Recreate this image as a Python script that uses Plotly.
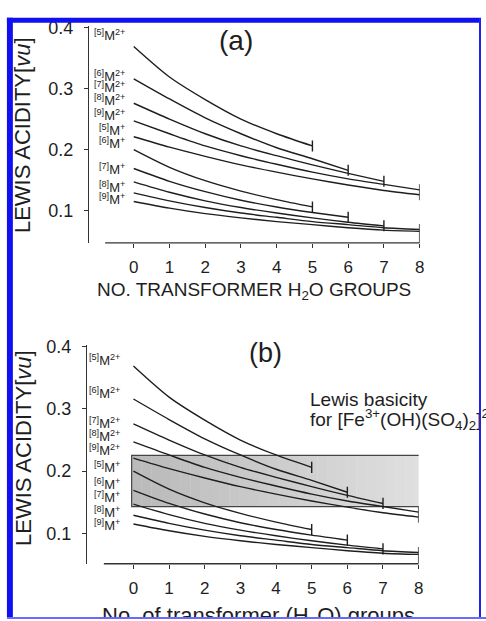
import plotly.graph_objects as go

W, H = 486, 621

# ---------------- data ----------------
n_water = [0, 1, 2, 3, 4, 5, 6, 7, 8]

m2_cn5 = [0.369, 0.319, 0.282, 0.250, 0.226, 0.206]
m2_cn6 = [0.316, 0.283, 0.252, 0.226, 0.203, 0.185, 0.166]
m2_cn7 = [0.276, 0.250, 0.226, 0.206, 0.190, 0.175, 0.161, 0.148]
m2_cn8 = [0.247, 0.226, 0.206, 0.190, 0.176, 0.163, 0.152, 0.143, 0.134]
m2_cn9 = [0.221, 0.204, 0.189, 0.175, 0.163, 0.152, 0.142, 0.133, 0.126]
m1_cn5 = [0.200, 0.171, 0.149, 0.132, 0.118, 0.106]
m1_cn6 = [0.169, 0.148, 0.131, 0.117, 0.106, 0.097, 0.089]
m1_cn7 = [0.147, 0.130, 0.116, 0.105, 0.096, 0.088, 0.081, 0.075]
m1_cn8 = [0.129, 0.116, 0.105, 0.096, 0.089, 0.082, 0.077, 0.072, 0.069]
m1_cn9 = [0.115, 0.104, 0.095, 0.088, 0.082, 0.077, 0.072, 0.068, 0.066]

upper_group = [m2_cn5, m2_cn6, m2_cn7, m2_cn8, m2_cn9]
lower_group = [m1_cn5, m1_cn6, m1_cn7, m1_cn8, m1_cn9]

curve_labels = ["<sup>[5]</sup>M<sup>2+</sup>", "<sup>[6]</sup>M<sup>2+</sup>",
                "<sup>[7]</sup>M<sup>2+</sup>", "<sup>[8]</sup>M<sup>2+</sup>",
                "<sup>[9]</sup>M<sup>2+</sup>", "<sup>[5]</sup>M<sup>+</sup>",
                "<sup>[6]</sup>M<sup>+</sup>", "<sup>[7]</sup>M<sup>+</sup>",
                "<sup>[8]</sup>M<sup>+</sup>", "<sup>[9]</sup>M<sup>+</sup>"]
label_y_a = [0.3885, 0.3206, 0.3028, 0.2817, 0.2574, 0.2316, 0.2105, 0.1684, 0.1393, 0.1183]
label_y_b = [0.378, 0.3257, 0.278, 0.256, 0.2336, 0.2067, 0.1797, 0.1591, 0.1337, 0.113]

y_tickvals = [0.1, 0.2, 0.3, 0.4]
y_ticktext = ["0.1", "0.2", "0.3", "0.4"]
x_ticktext = [str(v) for v in n_water]

basicity_range = [0.1429, 0.2254]   # Lewis basicity of [Fe3+(OH)(SO4)2]2-
basicity_x = [-0.05, 8.17]

FONT = "Liberation Sans, Arial, sans-serif"
INK = "#1e1e1e"

def pxx(x):
    return x / W

def pxy(y):
    return 1 - y / H

fig = go.Figure()

panels = [
    dict(xa="x", ya="y", xdom=(90, 424), ydom=(238, 18), xr=[-1.25, 8], yr=[0.047, 0.403],
         axis_start=-0.8, labels_y=label_y_a, label_right=128),
    dict(xa="x2", ya="y2", xdom=(88, 423), ydom=(563, 341), xr=[-1.3, 8], yr=[0.051, 0.4035],
         axis_start=-0.83, labels_y=label_y_b, label_right=123),
]

shapes = []
annotations = []

for pi, p in enumerate(panels):
    # shaded Lewis basicity box (panel b only)
    if pi == 1:
        nstrip = 30
        x0, x1 = basicity_x
        for k in range(nstrip):
            g = int(186 + (224 - 186) * k / (nstrip - 1))
            shapes.append(dict(type="rect", xref=p["xa"], yref=p["ya"],
                               x0=x0 + (x1 - x0) * k / nstrip, x1=x0 + (x1 - x0) * (k + 1) / nstrip + 0.01,
                               y0=basicity_range[0], y1=basicity_range[1],
                               fillcolor=f"rgb({g},{g},{g})", line=dict(width=0), layer="below"))
        shapes.append(dict(type="rect", xref=p["xa"], yref=p["ya"], x0=x0, x1=x1,
                           y0=basicity_range[0], y1=basicity_range[1],
                           fillcolor="rgba(0,0,0,0)", line=dict(color="#444", width=1.2), layer="below"))

    # curves
    for grp in (upper_group, lower_group):
        for vals in grp:
            fig.add_trace(go.Scatter(x=n_water[:len(vals)], y=vals, mode="lines",
                                     line=dict(color=INK, width=1.4, shape="spline", smoothing=0.8),
                                     xaxis=p["xa"], yaxis=p["ya"], hoverinfo="skip"))
    # end ticks
    h = 0.009
    tx, ty = [], []
    for gi, grp in enumerate((upper_group, lower_group)):
        ends = {}
        for vals in grp:
            ends.setdefault(len(vals) - 1, []).append(vals[-1])
        for ex, evs in ends.items():
            lo = min(evs) - h
            hi = max(evs) + h
            if gi == 1 and len(evs) > 1:
                lo = p["yr"][0]
            tx += [ex, ex, None]
            ty += [lo, hi, None]
    fig.add_trace(go.Scatter(x=tx, y=ty, mode="lines", line=dict(color=INK, width=1.4),
                             xaxis=p["xa"], yaxis=p["ya"], hoverinfo="skip"))

    # x-axis line (detached from y axis)
    shapes.append(dict(type="line", xref=p["xa"], yref=p["ya"] + " domain",
                       x0=p["axis_start"], x1=n_water[-1], y0=0, y1=0,
                       line=dict(color="#333", width=1.3)))

    # curve labels
    for txt, ly in zip(curve_labels, p["labels_y"]):
        annotations.append(dict(text=txt, xref="paper", yref=p["ya"], x=pxx(p["label_right"]), y=ly,
                                xanchor="right", yanchor="middle", showarrow=False,
                                font=dict(size=13, color=INK, family=FONT)))

    ax_common = dict(showgrid=False, zeroline=False, ticks="outside", ticklen=4, tickwidth=1.2,
                     tickcolor="#333", tickfont=dict(size=17, color=INK, family=FONT))
    xkey = "xaxis" if pi == 0 else "xaxis2"
    ykey = "yaxis" if pi == 0 else "yaxis2"
    fig.update_layout(**{
        xkey: dict(domain=[pxx(p["xdom"][0]), pxx(p["xdom"][1])], range=p["xr"],
                   tickvals=n_water, ticktext=x_ticktext, showline=False,
                   anchor=p["ya"], ticklabelstandoff=5, **ax_common),
        ykey: dict(domain=[pxy(p["ydom"][0]), pxy(p["ydom"][1])], range=p["yr"],
                   tickvals=y_tickvals, ticktext=y_ticktext, showline=True, linecolor="#333",
                   linewidth=1.3, anchor=p["xa"], ticklabelstandoff=7,
                   **{**ax_common, "tickfont": dict(size=18, color=INK, family=FONT)}),
    })

# axis titles and panel texts
ytitle = "LEWIS ACIDITY[<i>vu</i>]"
annotations += [
    dict(text=ytitle, x=pxx(23), y=pxy(129), xref="paper", yref="paper", textangle=-90,
         showarrow=False, font=dict(size=22, color=INK, family=FONT), xanchor="center", yanchor="middle"),
    dict(text=ytitle, x=pxx(23), y=pxy(446), xref="paper", yref="paper", textangle=-90,
         showarrow=False, font=dict(size=22, color=INK, family=FONT), xanchor="center", yanchor="middle"),
    dict(text="NO. TRANSFORMER H<sub>2</sub>O GROUPS", x=pxx(257), y=pxy(287), xref="paper", yref="paper",
         showarrow=False, font=dict(size=19, color=INK, family=FONT), xanchor="center", yanchor="middle"),
    dict(text="(a)", x=pxx(238), y=pxy(33), xref="paper", yref="paper",
         showarrow=False, font=dict(size=28, color=INK, family=FONT), xanchor="center", yanchor="middle"),
    dict(text="(b)", x=pxx(268), y=pxy(350), xref="paper", yref="paper",
         showarrow=False, font=dict(size=27, color=INK, family=FONT), xanchor="center", yanchor="middle"),
    dict(text="Lewis basicity", x=pxx(311), y=pxy(397), xref="paper", yref="paper",
         showarrow=False, font=dict(size=19, color=INK, family=FONT), xanchor="left", yanchor="middle"),
    dict(text="for [Fe<sup>3+</sup>(OH)(SO<sub>4</sub>)<sub>2</sub>]<sup>2\u2212</sup>", x=pxx(311), y=pxy(417),
         xref="paper", yref="paper",
         showarrow=False, font=dict(size=19, color=INK, family=FONT), xanchor="left", yanchor="middle"),
    dict(text="No. of transformer (H<sub>2</sub>O) groups", x=pxx(261), y=pxy(617), xref="paper", yref="paper",
         showarrow=False, font=dict(size=22, color=INK, family=FONT), xanchor="center", yanchor="middle"),
    # frame pieces that must cover text
    dict(text=" ", x=pxx(486), y=pxy(10), xref="paper", yref="paper", xanchor="right", yanchor="top",
         width=2, height=611, bgcolor="#2020f0", borderpad=0, borderwidth=0, showarrow=False),
    dict(text=" ", x=pxx(0), y=pxy(617), xref="paper", yref="paper", xanchor="left", yanchor="top",
         width=486, height=4, bgcolor="white", borderpad=0, borderwidth=0, showarrow=False),
    dict(text=" ", x=pxx(7), y=pxy(617), xref="paper", yref="paper", xanchor="left", yanchor="top",
         width=479, height=2, bgcolor="#6a6aff", borderpad=0, borderwidth=0, showarrow=False),
]

# blue frame (left and top bars)
shapes += [
    dict(type="rect", xref="paper", yref="paper", x0=pxx(7), x1=pxx(13), y0=0, y1=pxy(10),
         fillcolor="#1010f0", line=dict(width=0), layer="above"),
    dict(type="rect", xref="paper", yref="paper", x0=pxx(7), x1=1, y0=pxy(15), y1=pxy(10),
         fillcolor="#1010f0", line=dict(width=0), layer="above"),
]

fig.update_layout(width=W, height=H, margin=dict(l=0, r=0, t=0, b=0),
                  paper_bgcolor="white", plot_bgcolor="rgba(0,0,0,0)", showlegend=False,
                  font=dict(family=FONT, color=INK), shapes=shapes, annotations=annotations)

fig.write_html("out.html")
